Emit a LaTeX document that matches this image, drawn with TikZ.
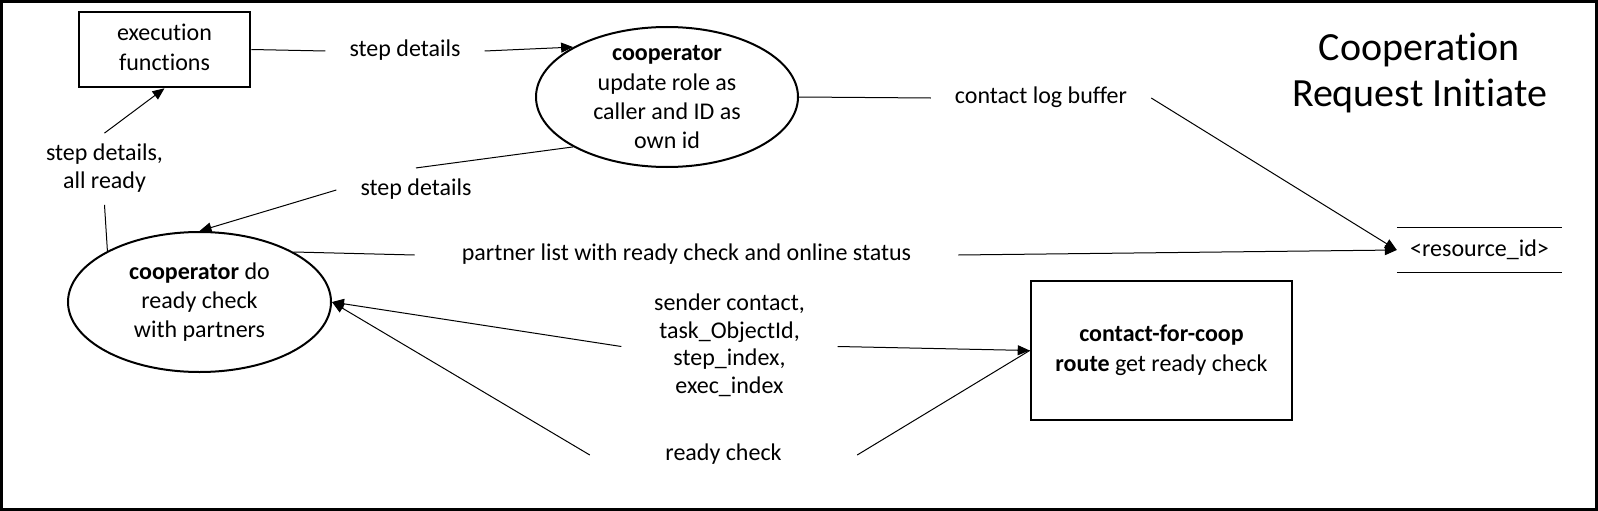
\documentclass[tikz,border=0pt]{standalone}
\usepackage{fontspec}
\setmainfont{Carlito}[Ligatures=NoCommon]
\usetikzlibrary{arrows.meta,shapes.geometric}
\begin{document}
\begin{tikzpicture}[x=1pt,y=-1pt,
  conn/.style={line width=1pt},
  arr/.style={line width=1pt,-{Triangle[length=12pt,width=10pt]}},
  lbl/.style={font=\fontsize{24}{27.7}\selectfont, align=center, inner xsep=24pt, inner ysep=8pt},
  box/.style={draw, line width=2.6pt, inner sep=0pt, align=center, font=\fontsize{24}{29.3}\selectfont},
  oval/.style={draw, ellipse, line width=2pt, inner sep=0pt, minimum width=262pt, minimum height=140pt},
  txt/.style={font=\fontsize{24}{29.3}\selectfont, align=center, inner sep=0pt}
]
\useasboundingbox (0,0) rectangle (1598,511);
\draw[line width=3pt] (1.5,1.5) rectangle (1596.5,509.5);

% main nodes
\node[box, minimum width=171pt, minimum height=75pt] (exec) at (164.5,49.5) {\strut execution\\\strut functions};
\node[oval] (coop) at (667,97) {};
\node[txt] (cooptxt) at (667,99) {\strut\textbf{cooperator}\\\strut update role as\\\strut caller and ID as\\\strut own id};
\node[oval, minimum width=263pt] (coopB) at (199.5,302) {};
\node[txt] (coopBtxt) at (199.5,302.5) {\strut\textbf{cooperator} do\\\strut ready check\\\strut with partners};
\node[box, minimum width=261pt, minimum height=139pt] (cfc) at (1161.5,350.5) {\strut\textbf{contact-for-coop}\\\strut\textbf{route} get ready check};
\node[minimum width=165pt, minimum height=44pt, inner sep=0pt, font=\fontsize{24}{29.3}\selectfont] (res) at (1479.5,250) {<resource\_id>};
\draw[line width=1.2pt] (res.north west) -- (res.north east) (res.south west) -- (res.south east);
\node[align=center, font=\fontsize{40}{45}\selectfont, inner sep=0pt] (title) at (1419.5,74.5) {\strut Cooperation\\\strut Request Initiate};

% labels
\node[lbl] (l1) at (405,51) {\strut step details};
\node[lbl] (l2) at (416,190) {\strut step details};
\node[lbl] (l3) at (1041,98) {\strut contact log buffer};
\node[lbl, inner xsep=47pt] (l4) at (686.5,255) {\strut partner list with ready check and online status};
\node[lbl] (lA) at (104.5,169) {\strut step details,\\\strut all ready};
\node[lbl, minimum width=216pt] (l5) at (729.5,346.5) {\strut sender contact,\\\strut task\_ObjectId,\\\strut step\_index,\\\strut exec\_index};
\node[lbl, minimum width=267pt] (l6) at (723.5,455) {\strut ready check};

% connectors
\draw[conn] (exec.east) -- (l1.west);
\draw[arr] (l1.east) -- (coop.152);
\draw[conn] (coop.208) -- (l2.north);
\draw[arr] (l2.west) -- (coopB.north);
\draw[conn] (coopB.151) -- (lA.south);
\draw[arr] (lA.north) -- (exec.south);
\draw[conn] (coop.east) -- (l3.west);
\draw[arr] (l3.east) -- (res.west);
\draw[conn] (coopB.28) -- (l4.west);
\draw[arr] (l4.east) -- (res.west);
\draw[arr] (l5.west) -- (coopB.east);
\draw[arr] (l5.east) -- (cfc.west);
\draw[conn] (cfc.west) -- (l6.east);
\draw[arr] (l6.west) -- (coopB.east);
\end{tikzpicture}
\end{document}
